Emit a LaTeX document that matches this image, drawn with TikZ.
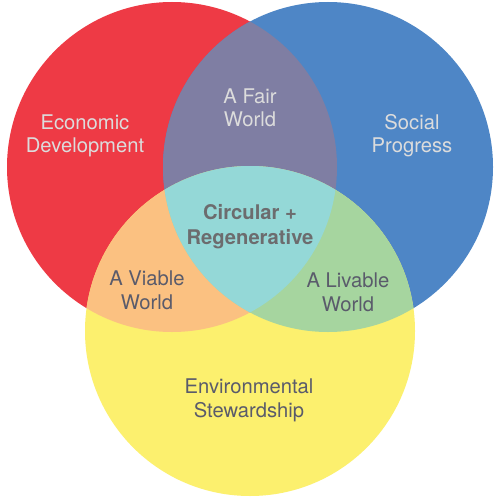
\documentclass[tikz,border=0pt]{standalone}
\usepackage{fontspec}
\setmainfont{TeX Gyre Heros}
\usepackage{tikz}
\usepackage{xcolor}
\definecolor{econred}{HTML}{EE3A45}
\definecolor{socialblue}{HTML}{4E86C6}
\definecolor{envyellow}{HTML}{FCF06E}
\definecolor{fairpurple}{HTML}{7F7EA3}
\definecolor{viableorange}{HTML}{FBC181}
\definecolor{livablegreen}{HTML}{A6D59F}
\definecolor{corecyan}{HTML}{94D8D7}
\definecolor{lighttext}{HTML}{DCDCDC}
\definecolor{darktext}{HTML}{5A5B6B}
\definecolor{coretext}{HTML}{6C6C6E}

\begin{document}
\begin{tikzpicture}[
  x=0.02cm, y=-0.02cm,
  every node/.style={font=\fontsize{11.5}{13.6}\selectfont,align=center,anchor=base},
  light/.style={text=lighttext},
  dark/.style={text=darktext},
  core/.style={text=coretext,font=\fontsize{11.5}{14.2}\selectfont\bfseries}
]
\useasboundingbox[fill=white] (0,0) rectangle (500,500);
\coordinate (econ) at (172,167);
\coordinate (social) at (328,167);
\coordinate (env) at (250,331);
\fill[econred] (econ) circle[radius=165];
\fill[socialblue] (social) circle[radius=165];
\fill[envyellow] (env) circle[radius=165];
% two-way overlaps
\begin{scope}
  \clip (econ) circle[radius=165];
  \fill[fairpurple] (social) circle[radius=165];
  \fill[viableorange] (env) circle[radius=165];
\end{scope}
\begin{scope}
  \clip (social) circle[radius=165];
  \fill[livablegreen] (env) circle[radius=165];
  \clip (econ) circle[radius=165];
  \fill[corecyan] (env) circle[radius=165];
\end{scope}
% labels (base = last line)
\node[light] (econlbl) at (85,153) {Economic\\Development};
\node[light] (sociallbl) at (412,153) {Social\\Progress};
\node[light] (fair) at (250,127) {A Fair\\World};
\node[core] (corelbl) at (250,244) {Circular +\\Regenerative};
\node[dark] (viable) at (147,309) {A Viable\\World};
\node[dark] (livable) at (348,311) {A Livable\\World};
\node[dark] (envlbl) at (249,417) {Environmental\\Stewardship};
\end{tikzpicture}
\end{document}
